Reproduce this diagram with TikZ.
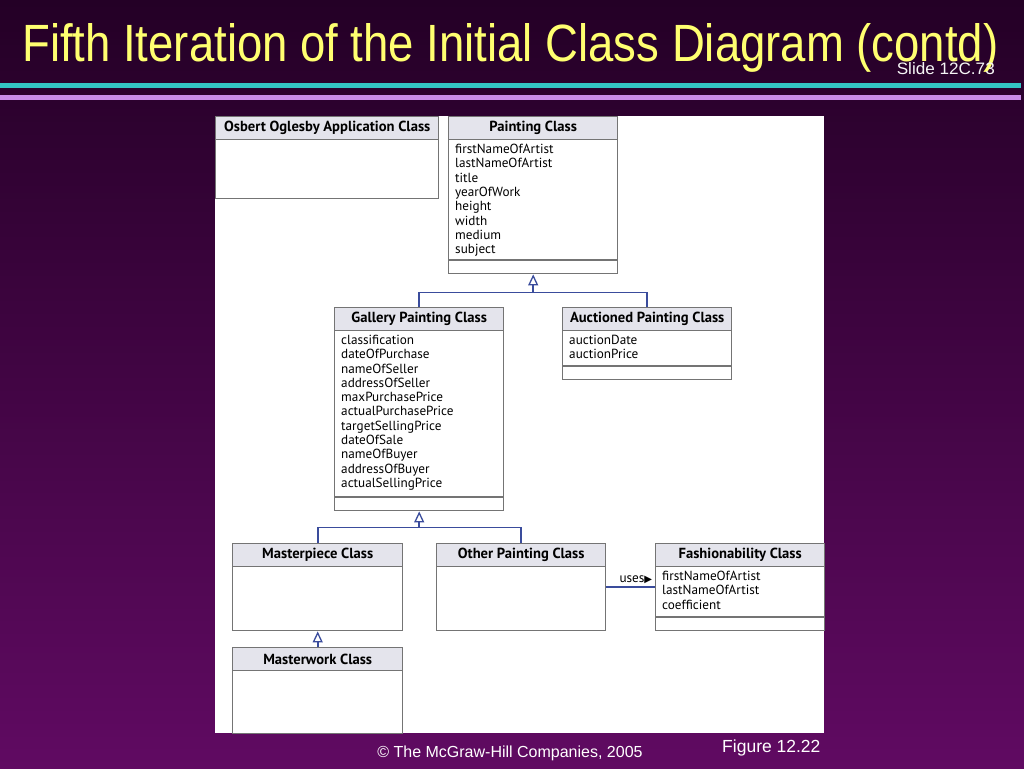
\documentclass[tikz,border=0pt]{standalone}
\usepackage{fontspec}
\usepackage{graphicx}
\setmainfont{Liberation Sans}
\newfontfamily\umlfont{PT Sans}
\newfontfamily\symfont{DejaVu Sans}
\usetikzlibrary{arrows.meta,positioning,calc}

\definecolor{bgtop}{HTML}{240026}
\definecolor{bgbottom}{HTML}{600A62}
\definecolor{titleyellow}{HTML}{FFFF70}
\definecolor{rulecyan}{HTML}{33C4C4}
\definecolor{rulelilac}{HTML}{C88CE8}
\definecolor{boxgray}{HTML}{747474}
\definecolor{headfill}{HTML}{E4E4EC}
\definecolor{linkblue}{HTML}{3A4C9C}

% one UML class: name, top left, width, height, title, attributes
\newcommand{\umlclass}[6]{%
  \node[classbox, anchor=north west, minimum width=#3, minimum height=#4] (#1) at (#2) {};
  \node[classhead, anchor=north, minimum width=#3] (#1-head) at (#1.north) {#5};
  \node[attrlist, anchor=north west] (#1-attrs) at (#1-head.south west) {#6};
}

\begin{document}
\begin{tikzpicture}[x=1pt, y=-1pt,
  classbox/.style={draw=boxgray, line width=1.4pt, fill=white, inner sep=0pt},
  classhead/.style={draw=boxgray, line width=1.4pt, fill=headfill, minimum height=23,
    inner sep=0pt, font=\umlfont\bfseries\fontsize{14.6}{16}\selectfont},
  attrlist/.style={align=left, inner xsep=7pt, inner ysep=3.5pt,
    font=\umlfont\fontsize{13.2}{14.3}\selectfont},
  linkline/.style={draw=linkblue, line width=1.7pt},
  genline/.style={linkline, -{Triangle[open, length=11pt, width=10pt, fill=white, line width=1.3pt]}}]
  \shade[top color=bgtop, bottom color=bgbottom] (0,0) rectangle (1024,768);
  \useasboundingbox (0,0) rectangle (1024,768);
  % heading
  \node[anchor=base west, inner sep=0pt, text=titleyellow] (title) at (22,62)
    {\resizebox{976pt}{38pt}{Fifth Iteration of the Initial Class Diagram (contd)}};
  \node[anchor=base east, inner sep=0pt, text=white!92!gray] (slideno) at (995,74)
    {\resizebox{98pt}{12pt}{Slide 12C.73}};
  \fill[rulecyan] (0,83) rectangle (1021,88);
  \fill[rulelilac] (0,95) rectangle (1021,100);
  % figure panel
  \fill[white] (215,116) rectangle (824,733);

  \umlclass{osbert}{215,116}{223}{82}{Osbert Oglesby Application Class}{}
  \umlclass{painting}{448,116}{169}{157}{Painting Class}{firstNameOfArtist\\lastNameOfArtist\\title\\yearOfWork\\height\\width\\medium\\subject}
  \umlclass{gallery}{334,307}{169}{203}{Gallery Painting Class}{classification\\dateOfPurchase\\nameOfSeller\\addressOfSeller\\maxPurchasePrice\\actualPurchasePrice\\targetSellingPrice\\dateOfSale\\nameOfBuyer\\addressOfBuyer\\actualSellingPrice}
  \umlclass{auctioned}{562,307}{169}{72}{Auctioned Painting Class}{auctionDate\\auctionPrice}
  \umlclass{masterpiece}{232,543}{170}{87}{Masterpiece Class}{}
  \umlclass{other}{436,543}{169}{87}{Other Painting Class}{}
  \umlclass{fashion}{655,543}{169}{87}{Fashionability Class}{firstNameOfArtist\\lastNameOfArtist\\coefficient}
  \umlclass{masterwork}{232,647}{170}{86}{Masterwork Class}{}

  \foreach \c in {painting,gallery,auctioned,fashion}
    \draw[boxgray, line width=1.4pt] ([yshift=14.5pt]\c.south west) -- ([yshift=14.5pt]\c.south east);

  % inheritance
  \coordinate (join-a) at ($(painting.south)+(0,18)$);
  \draw[genline] (gallery.north) |- (join-a) -- (painting.south);
  \draw[linkline] (auctioned.north) |- (join-a);
  \coordinate (join-b) at ($(gallery.south)+(0,16)$);
  \draw[genline] (masterpiece.north) |- (join-b) -- (gallery.south);
  \draw[linkline] (other.north) |- (join-b);
  \draw[genline] (masterwork.north) -- (masterpiece.south);
  % association
  \draw[linkline] (other.east) -- node[pos=1, anchor=south east, xshift=-2pt, yshift=3pt, inner sep=0pt,
    font=\umlfont\fontsize{13.2}{14}\selectfont] (uses) {uses{\symfont\fontsize{10}{10}\selectfont ▶}} (fashion.west);

  % footer
  \node[anchor=base, text=white, font=\fontsize{16}{18}\selectfont] (copy) at (510,757)
    {© The McGraw-Hill Companies, 2005};
  \node[anchor=base east, text=white, font=\fontsize{17.5}{20}\selectfont] (figno) at (824,752) {Figure 12.22};
\end{tikzpicture}
\end{document}
